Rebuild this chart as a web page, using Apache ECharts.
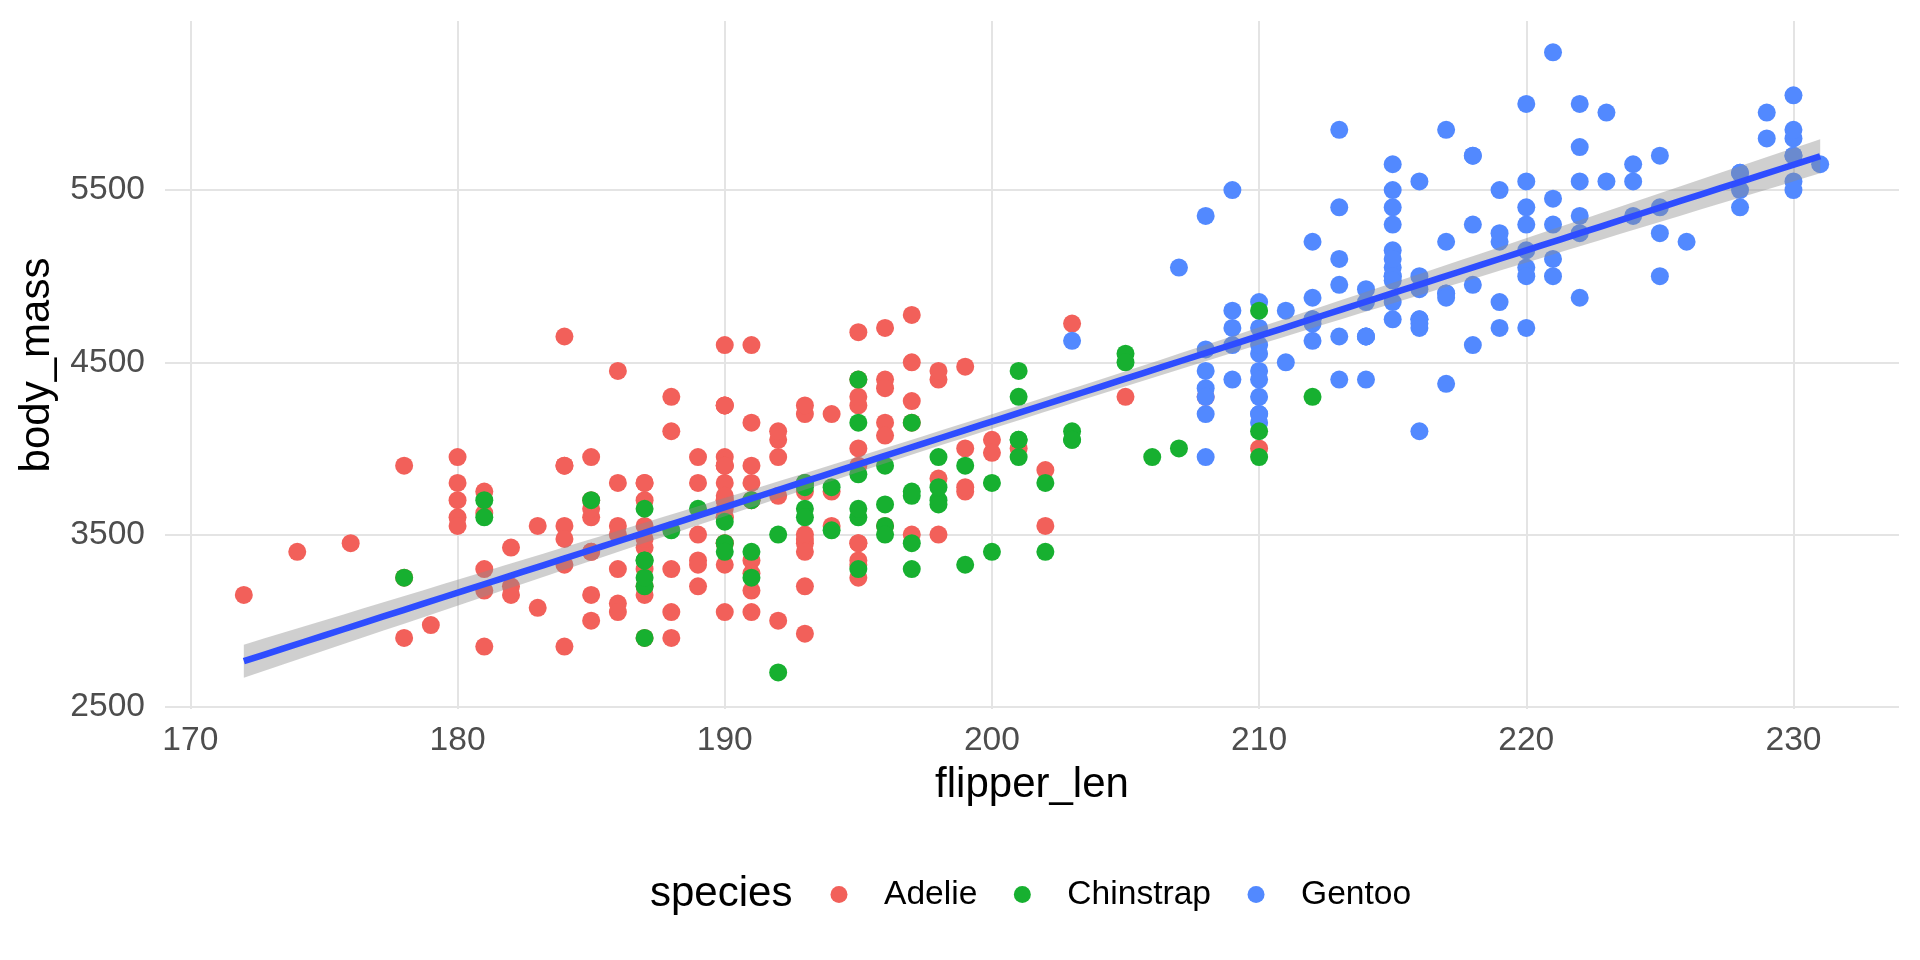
<!DOCTYPE html>
<html>
<head>
<meta charset="utf-8">
<script src="https://cdn.jsdelivr.net/npm/echarts@6/dist/echarts.min.js"></script>
<style>
html,body{margin:0;padding:0;background:#ffffff;}
#chart{width:1920px;height:960px;}
</style>
</head>
<body>
<div id="chart"></div>
<script>
// ---------------- data ----------------
const adelieFlipper = [181,186,195,193,190,181,195,193,190,186,180,182,191,198,185,195,197,184,194,174,
180,189,185,180,187,183,187,172,180,178,178,188,184,195,196,190,180,181,184,182,
195,186,196,185,190,182,179,190,191,186,188,190,200,187,191,186,193,181,194,185,
195,185,192,184,192,195,188,190,198,190,190,196,197,190,195,191,184,187,195,189,
196,187,193,191,194,190,189,189,190,202,205,185,186,187,208,190,196,178,192,192,
203,183,190,193,184,199,190,181,197,198,191,193,197,191,196,188,199,189,189,187,
198,176,202,186,199,191,195,191,210,190,197,193,199,187,190,191,200,185,193,193,
187,188,190,192,185,190,184,195,193,187,201];
const adelieMass = [3750,3800,3250,3450,3650,3625,4675,3475,4250,3300,3700,3200,3800,4400,3700,3450,4500,3325,4200,3400,
3600,3800,3950,3800,3800,3550,3200,3150,3950,3250,3900,3300,3900,3325,4150,3950,3550,3300,4650,3150,
3900,3100,4400,3000,4600,3425,2975,3450,4150,3500,4300,3450,4050,2900,3700,3550,3800,2850,3750,3150,
4400,3600,4050,2850,3950,3350,4100,3050,4450,3600,3900,3550,4150,3700,4250,3700,3900,3550,4000,3200,
4700,3800,4200,3350,3550,3800,3500,3950,3600,3550,4300,3400,4450,3300,4300,3700,4350,2900,4100,3725,
4725,3075,4250,2925,3550,3750,3900,3175,4775,3825,4600,3200,4275,3900,4075,2900,3775,3350,3325,3150,
3500,3450,3875,3050,4000,3275,4300,3050,4000,3325,3500,3500,4475,3425,3900,3175,3975,3400,4250,3400,
3475,3050,3725,3000,3650,4250,3475,3450,3750,3700,4000];

const gentooFlipper = [211,230,210,218,215,210,211,219,209,215,214,216,214,213,210,217,210,221,209,222,
218,215,213,215,215,215,216,215,210,220,222,209,207,230,220,220,213,219,208,208,
208,225,210,216,222,217,210,225,213,215,210,220,210,225,217,220,208,220,208,224,
208,221,214,231,219,230,214,229,220,223,216,221,221,217,216,230,209,220,215,223,
212,221,212,224,212,228,218,218,212,230,218,228,212,224,214,226,216,222,203,225,
219,228,215,228,216,215,210,219,208,209,216,229,213,230,217,230,217,222,214,215,
222,212,213];
const gentooMass = [4500,5700,4450,5700,5400,4550,4800,5200,4400,5150,4650,5550,4650,5850,4200,5850,4150,6300,4800,5350,
5700,5000,4400,5050,5000,5100,4100,5650,4600,5550,5250,4700,5050,6050,5150,5400,4950,5250,4350,5350,
3950,5700,4300,4750,5550,4900,4200,5400,5100,5300,4850,5300,4400,5000,4900,5050,4300,5000,4450,5550,
4200,5300,4400,5650,4700,5700,4650,5800,4700,5550,4750,5000,5100,5200,4700,5800,4600,6000,4750,5950,
4625,5450,4725,5350,4750,5600,4600,5300,4875,5550,4950,5400,4750,5650,4850,5200,4925,4875,4625,5250,
4850,5600,4975,5500,4725,5500,4700,5500,4575,5500,5000,5950,4650,5500,4375,5850,4875,6000,4925,4850,
5750,5200,5400];

const chinstrapFlipper = [192,196,193,188,197,198,178,197,195,198,193,194,185,201,190,201,197,181,190,195,
181,191,187,193,195,197,200,200,191,205,187,201,187,203,195,199,195,210,192,205,
210,187,196,196,196,201,190,212,187,198,199,201,193,203,187,197,191,203,202,194,
206,189,195,207,202,193,210,198];
const chinstrapMass = [3500,3900,3650,3525,3725,3950,3250,3750,4150,3700,3800,3775,3700,4050,3575,4050,3300,3700,3450,4400,
3600,3400,2900,3800,3300,4150,3400,3800,3700,4550,3200,4300,3350,4100,3600,3900,3850,4800,2700,4500,
3950,3650,3550,3500,3675,4450,3400,4300,3250,3675,3325,3950,3600,4050,3350,3450,3250,4050,3800,3525,
3950,3650,3650,4000,3400,3775,4100,3775];

const speciesNames = ['Adelie', 'Chinstrap', 'Gentoo'];
const xTicks = [170, 180, 190, 200, 210, 220, 230];
const yTicks = [2500, 3500, 4500, 5500];
const xTitle = 'flipper_len';
const yTitle = 'body_mass';
const legendTitle = 'species';

// ---------------- styles ----------------
const FONT = "'Liberation Sans', Arial, Helvetica, sans-serif";
const COLORS = { Adelie: '#F2605A', Chinstrap: '#17B030', Gentoo: '#5289FF' };
const LINE_COLOR = '#2E4DFF';
const BAND_COLOR = 'rgba(140,140,140,0.42)';
const GRID_COLOR = '#e4e4e4';

// ---------------- linear fit (stat_smooth, method = lm) ----------------
const allX = adelieFlipper.concat(gentooFlipper, chinstrapFlipper);
const allY = adelieMass.concat(gentooMass, chinstrapMass);
const n = allX.length;
const mx = allX.reduce((a, b) => a + b, 0) / n;
const my = allY.reduce((a, b) => a + b, 0) / n;
let sxx = 0, sxy = 0;
for (let i = 0; i < n; i++) { sxx += (allX[i] - mx) ** 2; sxy += (allX[i] - mx) * (allY[i] - my); }
const slope = sxy / sxx;
const intercept = my - slope * mx;
let sse = 0;
for (let i = 0; i < n; i++) { const r = allY[i] - (intercept + slope * allX[i]); sse += r * r; }
const sigma = Math.sqrt(sse / (n - 2));
const tq = 1.96697; // qt(0.975, df = n - 2)
const xDataMin = Math.min(...allX), xDataMax = Math.max(...allX);
const NPTS = 80;
const bandX = [], fitY = [], bandLo = [], bandHi = [];
for (let i = 0; i < NPTS; i++) {
  const x = xDataMin + i * (xDataMax - xDataMin) / (NPTS - 1);
  const f = intercept + slope * x;
  const se = sigma * Math.sqrt(1 / n + (x - mx) ** 2 / sxx);
  bandX.push(x); fitY.push(f); bandLo.push(f - tq * se); bandHi.push(f + tq * se);
}

// ggplot-like 5% expansion of the ranges
const yLow = Math.min(Math.min(...allY), Math.min(...bandLo));
const yHigh = Math.max(Math.max(...allY), Math.max(...bandHi));
const xPad = (xDataMax - xDataMin) * 0.05;
const yPad = (yHigh - yLow) * 0.05;

const pairs = (xs, ys) => xs.map((x, i) => [x, ys[i]]);

const scatter = (name, xs, ys) => ({
  name: name,
  type: 'scatter',
  data: pairs(xs, ys),
  symbol: 'circle',
  symbolSize: 18,
  itemStyle: { color: COLORS[name], opacity: 1 },
  emphasis: { disabled: true },
  z: 2
});

const chart = echarts.init(document.getElementById('chart'), null, { renderer: 'canvas' });
chart.setOption({
  animation: false,
  backgroundColor: '#ffffff',
  textStyle: { fontFamily: FONT },
  grid: { left: 165, right: 21, top: 21, bottom: 251, containLabel: false, outerBoundsMode: 'none' },
  xAxis: {
    type: 'value',
    min: xDataMin - xPad,
    max: xDataMax + xPad,
    name: xTitle,
    nameLocation: 'middle',
    nameGap: 55,
    nameTextStyle: { fontSize: 42, color: '#000000', fontFamily: FONT },
    axisLine: { show: false },
    axisTick: { show: false, customValues: xTicks },
    axisLabel: { customValues: xTicks, formatter: v => String(v), fontSize: 33.6, color: '#4D4D4D', margin: 14.5, fontFamily: FONT },
    splitLine: { show: true, lineStyle: { color: GRID_COLOR, width: 2 } },
    minorSplitLine: { show: false }
  },
  yAxis: {
    type: 'value',
    min: yLow - yPad,
    max: yHigh + yPad,
    name: yTitle,
    nameLocation: 'middle',
    nameRotate: 90,
    nameGap: 107,
    nameTextStyle: { fontSize: 42, color: '#000000', fontFamily: FONT },
    axisLine: { show: false },
    axisTick: { show: false, customValues: yTicks },
    axisLabel: { customValues: yTicks, formatter: v => String(v), fontSize: 33.6, color: '#4D4D4D', margin: 20, fontFamily: FONT },
    splitLine: { show: true, lineStyle: { color: GRID_COLOR, width: 2 } },
    minorSplitLine: { show: false }
  },
  legend: {
    data: speciesNames.map(s => ({ name: s, icon: 'circle' })),
    orient: 'horizontal',
    left: 830.5,
    top: 877.5,
    itemWidth: 17,
    itemHeight: 17,
    itemGap: 36.5,
    padding: 0,
    selectedMode: false,
    textStyle: { fontSize: 33.6, color: '#000000', fontFamily: FONT, lineHeight: 34, padding: [0, 0, 0, 31.5] }
  },
  graphic: [{
    type: 'text',
    x: 650,
    y: 894,
    style: { text: legendTitle, fontSize: 42, fontFamily: FONT, fill: '#000000', textVerticalAlign: 'middle', verticalAlign: 'middle' }
  }],
  series: [
    scatter('Adelie', adelieFlipper, adelieMass),
    scatter('Gentoo', gentooFlipper, gentooMass),
    scatter('Chinstrap', chinstrapFlipper, chinstrapMass),
    {
      name: 'se band',
      type: 'custom',
      silent: true,
      z: 3,
      data: [[bandX[0], fitY[0]]],
      renderItem: function (params, api) {
        const pts = [];
        for (let i = 0; i < bandX.length; i++) pts.push(api.coord([bandX[i], bandHi[i]]));
        for (let i = bandX.length - 1; i >= 0; i--) pts.push(api.coord([bandX[i], bandLo[i]]));
        return { type: 'polygon', shape: { points: pts }, style: { fill: BAND_COLOR, stroke: null } };
      }
    },
    {
      name: 'fit',
      type: 'line',
      data: pairs(bandX, fitY),
      showSymbol: false,
      symbol: 'none',
      silent: true,
      z: 4,
      lineStyle: { color: LINE_COLOR, width: 6.5 },
      emphasis: { disabled: true }
    }
  ]
});
</script>
</body>
</html>
